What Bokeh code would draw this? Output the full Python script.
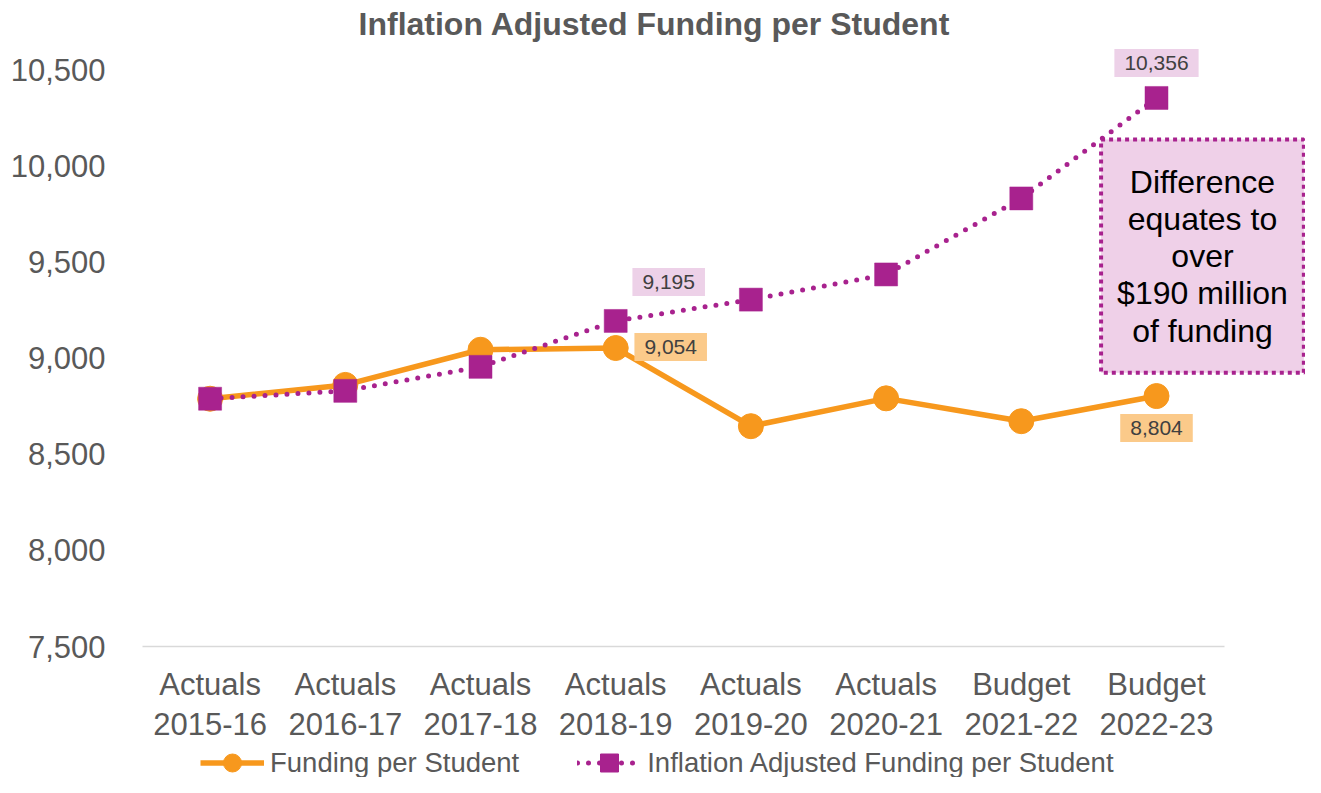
from bokeh.plotting import figure
from bokeh.layouts import column
from bokeh.models import (Range1d, FixedTicker, NumeralTickFormatter, Label,
                          Legend, LegendItem)
from bokeh.embed import file_html
from bokeh.resources import INLINE

categories = ["Actuals\n2015-16", "Actuals\n2016-17", "Actuals\n2017-18",
              "Actuals\n2018-19", "Actuals\n2019-20", "Actuals\n2020-21",
              "Budget\n2021-22", "Budget\n2022-23"]
funding = [8790, 8862, 9045, 9054, 8647, 8792, 8673, 8804]
inflation = [8790, 8831, 8956, 9195, 9306, 9437, 9833, 10356]
y_ticks = [7500, 8000, 8500, 9000, 9500, 10000, 10500]
title_text = "Inflation Adjusted Funding per Student"
note_text = "Difference\nequates to\nover\n$190 million\nof funding"
series_names = ["Funding per Student", "Inflation Adjusted Funding per Student"]

ORANGE = "#F7981D"
PURPLE = "#A8228E"
GRAY = "#595959"
FONT = "Liberation Sans"

W = 1305
H_MAIN, H_LEG = 744, 33
LEFT, BOTTOM = 142, 96            # border sizes (px)
UNIT = 135.2                      # px per category
PX_PER_VAL = 578 / 3000           # px per funding unit
Y_TOP_PX = 70                     # px from top where the top tick sits

x = list(range(len(categories)))
x_end = -0.5 + (W - LEFT) / UNIT
y_end = y_ticks[-1] + Y_TOP_PX / PX_PER_VAL

p = figure(width=W, height=H_MAIN, output_backend="svg", toolbar_location=None,
           x_range=Range1d(-0.5, x_end), y_range=Range1d(y_ticks[0], y_end),
           min_border_left=LEFT, min_border_right=0,
           min_border_top=0, min_border_bottom=BOTTOM)

p.outline_line_color = None
p.xgrid.visible = False
p.ygrid.visible = False
p.background_fill_color = "white"
p.border_fill_color = "white"

p.yaxis.ticker = FixedTicker(ticks=y_ticks)
p.yaxis.formatter = NumeralTickFormatter(format="0,0")
p.yaxis.major_label_text_font = FONT
p.yaxis.major_label_text_font_size = "31px"
p.yaxis.major_label_text_color = GRAY
p.yaxis.axis_line_color = None
p.yaxis.major_tick_line_color = None
p.yaxis.major_tick_out = 0
p.yaxis.major_tick_in = 0
p.yaxis.minor_tick_line_color = None
p.yaxis.minor_tick_out = 0
p.yaxis.major_label_standoff = 37

p.xaxis.ticker = FixedTicker(ticks=x)
p.xaxis.bounds = (-0.5, len(categories) - 0.5)
p.xaxis.major_label_overrides = {i: c for i, c in zip(x, categories)}
p.xaxis.major_label_text_font = FONT
p.xaxis.major_label_text_font_size = "31px"
p.xaxis.major_label_text_color = GRAY
p.xaxis.major_label_text_line_height = 1.156
p.xaxis.axis_line_color = "#D9D9D9"
p.xaxis.axis_line_width = 1.5
p.xaxis.major_tick_line_color = None
p.xaxis.major_tick_out = 0
p.xaxis.major_tick_in = 0
p.xaxis.minor_tick_line_color = None
p.xaxis.minor_tick_out = 0
p.xaxis.major_label_standoff = 20

# title drawn as a label inside the (full-height) frame
p.add_layout(Label(x=3.287, y=10740, text=title_text, text_align="center",
                   text_baseline="alphabetic", text_font=FONT,
                   text_font_size="32px", text_font_style="bold",
                   text_color=GRAY))

l1 = p.line(x, funding, line_color=ORANGE, line_width=5.5)
s1 = p.scatter(x, funding, marker="circle", size=25, fill_color=ORANGE,
               line_color=ORANGE, line_width=1)
l2 = p.line(x, inflation, line_color=PURPLE, line_width=5, line_dash="0 11",
            line_cap="round")
s2 = p.scatter(x, inflation, marker="square", size=23, fill_color=PURPLE,
               line_color=PURPLE, line_width=0.5)

PINK_BG = "#EDD1E8"
ORANGE_BG = "#FBCA8A"


def data_label(xi, yv, dx, dy, bg):
    lab = Label(x=xi, y=yv, text=f"{yv:,}", x_offset=dx, y_offset=dy,
                text_align="center", text_baseline="middle",
                text_font=FONT, text_font_size="21px", text_color="#404040",
                background_fill_color=bg,
                padding=dict(left=10, right=10, top=7, bottom=7))
    p.add_layout(lab)


data_label(3, inflation[3], 53, 39, PINK_BG)
data_label(3, funding[3], 55, 1, ORANGE_BG)
data_label(7, inflation[7], 0, 35, PINK_BG)
data_label(7, funding[7], 0, -32, ORANGE_BG)

note = Label(x=7.340, y=9532, text=note_text, text_align="center",
             text_baseline="middle", text_font=FONT, text_font_size="32px",
             text_color="black", text_line_height=1.036,
             background_fill_color="#EFD0E8",
             border_line_color=PURPLE, border_line_width=4,
             border_line_dash="4 4",
             padding=dict(left=16, right=16, top=24, bottom=24))
p.add_layout(note)

# legend strip: a second, axis-less figure holding style proxies for the legend
q = figure(width=W, height=H_LEG, output_backend="svg", toolbar_location=None,
           x_range=Range1d(0, 1), y_range=Range1d(0, 1),
           x_axis_location=None, y_axis_location=None,
           min_border_left=0, min_border_right=0,
           min_border_top=0, min_border_bottom=0)
q.outline_line_color = None
q.xgrid.visible = False
q.ygrid.visible = False
q.background_fill_color = "white"
q.border_fill_color = "white"
# proxies sit outside the visible range; they only lend their style to the legend
px, py = [-5], [-5]
pl1 = q.line(px, py, line_color=ORANGE, line_width=5.5)
ps1 = q.scatter(px, py, marker="circle", size=18, fill_color=ORANGE,
                line_color=ORANGE)
pl2 = q.line(px, py, line_color=PURPLE, line_width=5, line_dash="0 11",
             line_cap="round")
ps2 = q.scatter(px, py, marker="square", size=18, fill_color=PURPLE,
                line_color=PURPLE)

legend = Legend(items=[LegendItem(label=series_names[0], renderers=[pl1, ps1]),
                       LegendItem(label=series_names[1], renderers=[pl2, ps2])],
                orientation="horizontal", location=(58, -8),
                glyph_width=64, glyph_height=45, label_height=45,
                label_standoff=6, spacing=58, padding=0, margin=0,
                border_line_color=None, background_fill_alpha=0,
                label_text_font=FONT, label_text_font_size="27.5px",
                label_text_color=GRAY)
q.add_layout(legend)

layout = column(p, q, spacing=0)
open("out.html", "w").write(file_html(layout, INLINE))
